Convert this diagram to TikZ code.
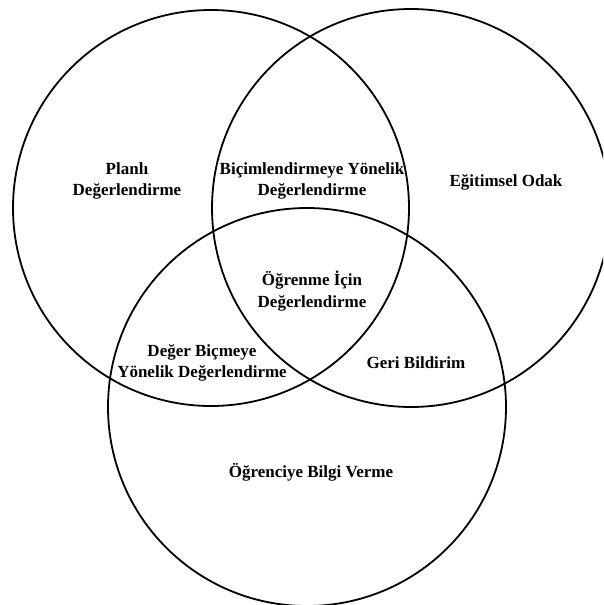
\documentclass[tikz,border=0pt]{standalone}
\usepackage{fontspec}
\setmainfont{Liberation Serif}
\begin{document}
\begin{tikzpicture}[x=1pt,y=-1pt,
  ring/.style={draw=black,line width=1.8pt},
  lbl/.style={font=\bfseries\fontsize{17}{21.5}\selectfont,align=center,inner sep=0pt}]
\useasboundingbox (0,0) rectangle (603,605);
\begin{scope}
\clip (0,0) rectangle (603,605);
\draw[ring] (211,208) circle (198);
\draw[ring] (411,208) circle (199);
\draw[ring] (307,407) circle (199);
\end{scope}
\node[lbl] (plan) at (127,181) {Planlı\\Değerlendirme};
\node[lbl] (bicim) at (312,181) {Biçimlendirmeye Yönelik\\Değerlendirme};
\node[lbl] (egit) at (506,182) {Eğitimsel Odak};
\node[lbl] (ogren) at (312,291) {Öğrenme İçin\\Değerlendirme};
\node[lbl] (deger) at (202,363) {Değer Biçmeye\\Yönelik Değerlendirme};
\node[lbl] (geri) at (416,363) {Geri Bildirim};
\node[lbl] (bilgi) at (311,472) {Öğrenciye Bilgi Verme};
\end{tikzpicture}
\end{document}
